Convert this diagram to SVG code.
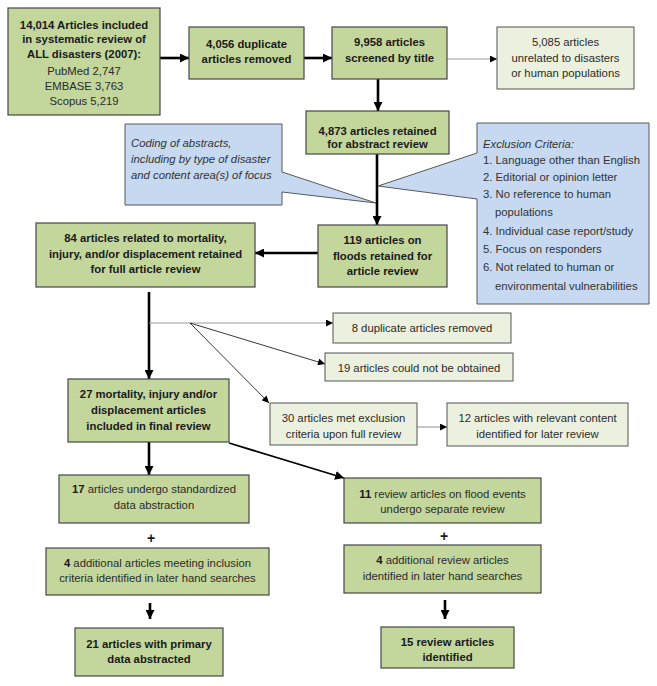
<svg xmlns="http://www.w3.org/2000/svg" width="657" height="686" viewBox="0 0 657 686">
<style>
text{font-family:"Liberation Sans",Arial,sans-serif;font-size:11.3px;fill:#2b2b2b;text-anchor:middle}
.b{font-weight:bold;fill:#1a1a1a}
.it{font-style:italic;text-anchor:start;fill:#333}
.l{text-anchor:start;fill:#333}
.dk{fill:#c3d69b;stroke:#474747;stroke-width:1.2}
.lt{fill:#ebf1de;stroke:#555;stroke-width:1}
.bl{fill:#c6d9f1;stroke:#595959;stroke-width:1}
.thick{stroke:#000;stroke-width:2.6;fill:none}
.mid{stroke:#000;stroke-width:1.8;fill:none}
.thin{stroke:#222;stroke-width:0.9;fill:none}
.gray{stroke:#999;stroke-width:1.1;fill:none}
</style>
<defs>
<marker id="ah" viewBox="0 0 10 10" refX="10" refY="5" markerWidth="9" markerHeight="9" markerUnits="userSpaceOnUse" orient="auto"><path d="M0,0 L10,5 L0,10 z" fill="#000"/></marker>
<marker id="ahs" viewBox="0 0 10 10" refX="10" refY="5" markerWidth="8" markerHeight="7" markerUnits="userSpaceOnUse" orient="auto"><path d="M0,0 L10,5 L0,10 z" fill="#000"/></marker>
</defs>
<rect width="657" height="686" fill="#fff"/>

<g id="connectors">
<line class="thick" x1="160" y1="58" x2="189" y2="58" marker-end="url(#ah)"/>
<line class="thick" x1="304" y1="58" x2="332" y2="58" marker-end="url(#ah)"/>
<line class="gray" x1="447" y1="59" x2="497" y2="59" marker-end="url(#ahs)"/>
<line class="thick" x1="378" y1="79" x2="378" y2="111" marker-end="url(#ah)"/>
<line class="thick" x1="377" y1="154" x2="377" y2="225" marker-end="url(#ah)"/>
<line class="thick" x1="318" y1="253" x2="255" y2="253" marker-end="url(#ah)"/>
<line class="thick" x1="149" y1="292" x2="149" y2="379" marker-end="url(#ah)"/>
<line class="gray" x1="149" y1="323" x2="333" y2="323" marker-end="url(#ahs)"/>
<line class="thin" x1="190" y1="323" x2="325" y2="364" marker-end="url(#ahs)"/>
<line class="thin" x1="190" y1="323" x2="269" y2="403" marker-end="url(#ahs)"/>
<line class="gray" x1="417" y1="427" x2="447" y2="427" marker-end="url(#ahs)"/>
<line class="thick" x1="149" y1="442" x2="149" y2="475" marker-end="url(#ah)"/>
<line class="mid" x1="229" y1="443" x2="344" y2="478" marker-end="url(#ah)"/>
<line class="thick" x1="150" y1="603" x2="150" y2="619" marker-end="url(#ah)"/>
<line class="thick" x1="445" y1="600" x2="445" y2="619" marker-end="url(#ah)"/>
</g>

<g id="n1"><rect class="dk" x="8" y="8" width="152" height="107"/>
<text class="b" x="84" y="28.5">14,014 Articles included</text>
<text class="b" x="84" y="43">in systematic review of</text>
<text class="b" x="84" y="58">ALL disasters (2007):</text>
<text x="84" y="75">PubMed 2,747</text>
<text x="84" y="89.5">EMBASE 3,763</text>
<text x="84" y="104.5">Scopus 5,219</text></g>

<g id="n2"><rect class="dk" x="189" y="27" width="115" height="52"/>
<text class="b" x="246.5" y="48">4,056 duplicate</text>
<text class="b" x="246.5" y="62.5">articles removed</text></g>

<g id="n3"><rect class="dk" x="332" y="27" width="115" height="52"/>
<text class="b" x="389.5" y="46">9,958 articles</text>
<text class="b" x="389.5" y="61.5">screened by title</text></g>

<g id="n4"><rect class="lt" x="497" y="27" width="137" height="62"/>
<text x="565.5" y="46">5,085 articles</text>
<text x="565.5" y="61.5">unrelated to disasters</text>
<text x="565.5" y="77">or human populations</text></g>

<g id="n5"><rect class="dk" x="306" y="111" width="143" height="43"/>
<text class="b" x="377.5" y="134.5">4,873 articles retained</text>
<text class="b" x="377.5" y="148">for abstract review</text></g>

<g id="callout-coding"><polygon class="bl" points="125,124 282,124 282,172 376,203 282,192 282,205 125,205"/>
<text class="it" x="131" y="146.5">Coding of abstracts,</text>
<text class="it" x="131" y="162.5">including by type of disaster</text>
<text class="it" x="131" y="178.5">and content area(s) of focus</text></g>

<g id="callout-exclusion"><polygon class="bl" points="477,123 649,123 649,304 477,304 477,199 378,186 477,153"/>
<text class="it" x="483" y="147.8">Exclusion Criteria:</text>
<text class="l" x="483" y="163.8">1. Language other than English</text>
<text class="l" x="483" y="181">2. Editorial or opinion letter</text>
<text class="l" x="483" y="197.8">3. No reference to human</text>
<text class="l" x="495" y="216">populations</text>
<text class="l" x="483" y="234.5">4. Individual case report/study</text>
<text class="l" x="483" y="252.8">5. Focus on responders</text>
<text class="l" x="483" y="270.5">6. Not related to human or</text>
<text class="l" x="495" y="289.5">environmental vulnerabilities</text></g>

<g id="n6"><rect class="dk" x="318" y="225" width="129" height="62"/>
<text class="b" x="382.5" y="244">119 articles on</text>
<text class="b" x="382.5" y="259.5">floods retained for</text>
<text class="b" x="382.5" y="275">article review</text></g>

<g id="n7"><rect class="dk" x="36" y="223" width="219" height="64"/>
<text class="b" x="145.5" y="241.5">84 articles related to mortality,</text>
<text class="b" x="145.5" y="257.5">injury, and/or displacement retained</text>
<text class="b" x="145.5" y="273">for full article review</text></g>

<g id="n8"><rect class="lt" x="333" y="313" width="178" height="30"/>
<text x="422" y="331.5">8 duplicate articles removed</text></g>

<g id="n9"><rect class="lt" x="325" y="353" width="188" height="28"/>
<text x="419" y="371.5">19 articles could not be obtained</text></g>

<g id="n10"><rect class="lt" x="270" y="403" width="147" height="42"/>
<text x="343.5" y="421.5">30 articles met exclusion</text>
<text x="343.5" y="437.5">criteria upon full review</text></g>

<g id="n11"><rect class="lt" x="447" y="403" width="181" height="43"/>
<text x="537.5" y="421.5">12 articles with relevant content</text>
<text x="537.5" y="437.5">identified for later review</text></g>

<g id="n12"><rect class="dk" x="68" y="379" width="161" height="63"/>
<text class="b" x="148.5" y="397.5">27 mortality, injury and/or</text>
<text class="b" x="148.5" y="413.5">displacement articles</text>
<text class="b" x="148.5" y="429.5">included in final review</text></g>

<g id="n13"><rect class="dk" x="59" y="475" width="190" height="48"/>
<text x="154" y="492.5"><tspan class="b">17</tspan> articles undergo standardized</text>
<text x="154" y="508.5">data abstraction</text></g>

<text class="b" x="151" y="543" style="font-size:14px">+</text>

<g id="n14"><rect class="dk" x="46" y="548" width="223" height="47"/>
<text x="157.5" y="566.5"><tspan class="b">4</tspan> additional articles meeting inclusion</text>
<text x="157.5" y="582">criteria identified in later hand searches</text></g>

<g id="n15"><rect class="dk" x="75" y="628" width="148" height="48"/>
<text class="b" x="149" y="647.5">21 articles with primary</text>
<text class="b" x="149" y="662.5">data abstracted</text></g>

<g id="n16"><rect class="dk" x="344" y="478" width="197" height="45"/>
<text x="442.5" y="497.5"><tspan class="b">11</tspan> review articles on flood events</text>
<text x="442.5" y="513">undergo separate review</text></g>

<text class="b" x="444" y="541" style="font-size:14px">+</text>

<g id="n17"><rect class="dk" x="344" y="545" width="197" height="48"/>
<text x="442.5" y="563.5"><tspan class="b">4</tspan> additional review articles</text>
<text x="442.5" y="579.5">identified in later hand searches</text></g>

<g id="n18"><rect class="dk" x="381" y="627" width="133" height="41"/>
<text class="b" x="447.5" y="645.5">15 review articles</text>
<text class="b" x="447.5" y="660.5">identified</text></g>
</svg>
